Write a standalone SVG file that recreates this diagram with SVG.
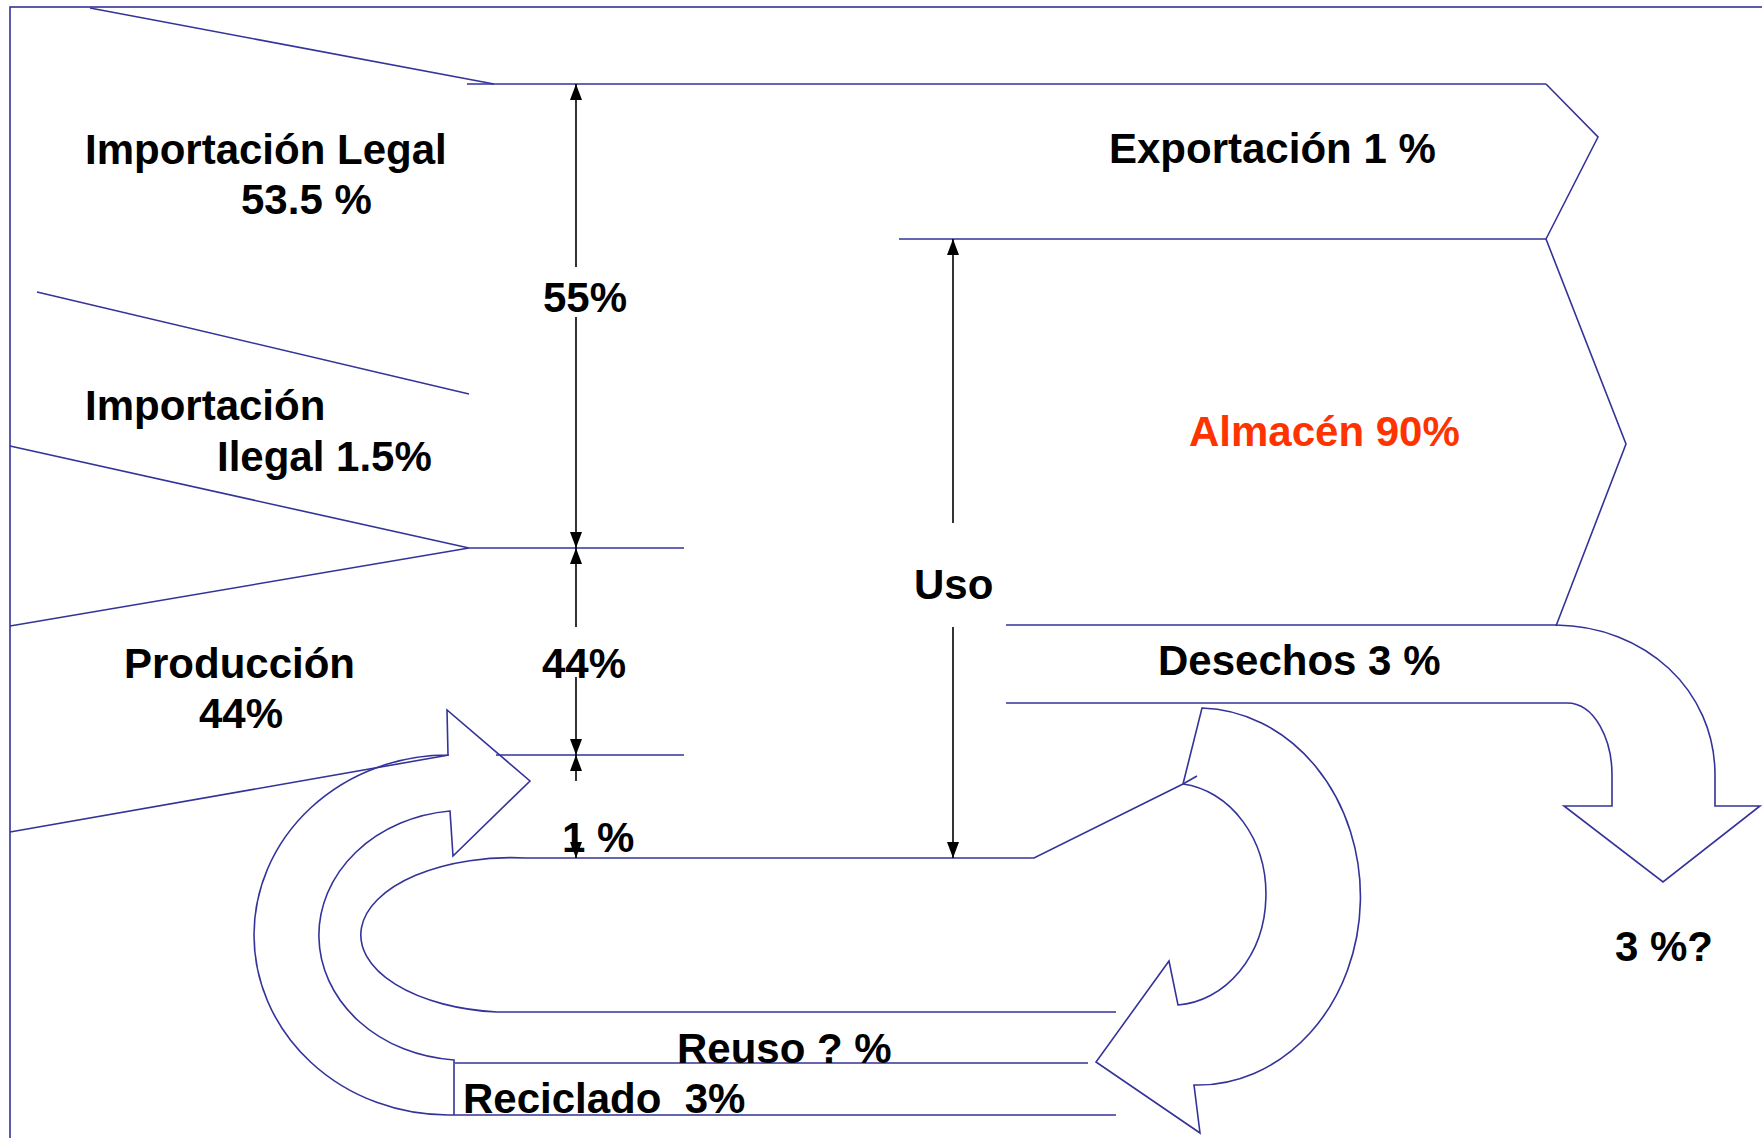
<svg xmlns="http://www.w3.org/2000/svg" width="1762" height="1138" viewBox="0 0 1762 1138">
<style>
.f{fill:none;stroke:#333399;stroke-width:1.6;stroke-linejoin:miter}
.d{fill:none;stroke:#000;stroke-width:1.6}
.t{font-family:"Liberation Sans",Arial,sans-serif;font-weight:bold;font-size:42px;fill:#000;white-space:pre}
.r{fill:#FF3300}
</style>
<defs>
<marker id="ah" viewBox="0 0 16 12" refX="16" refY="6" markerWidth="16" markerHeight="12" markerUnits="userSpaceOnUse" orient="auto">
<path d="M0,0 L16,6 L0,12 z" fill="#000"/>
</marker>
</defs>
<rect x="10" y="7" width="1800" height="1200" fill="#fff" stroke="#333399" stroke-width="1.6"/>
<g id="importacion-legal">
<path class="f" d="M90,8 L494,84 M37,292 L469,394"/>
<text class="t" x="85" y="164">Importación Legal</text>
<text class="t" x="241" y="214">53.5 %</text>
</g>
<g id="importacion-ilegal">
<path class="f" d="M10,446 L469,548 L10,626"/>
<text class="t" x="85" y="420">Importación</text>
<text class="t" x="217" y="471">Ilegal 1.5%</text>
</g>
<g id="produccion">
<path class="f" d="M10,832 L449,755"/>
<text class="t" x="124" y="678">Producción</text>
<text class="t" x="199" y="728">44%</text>
</g>
<g id="flujo">
<path class="f" d="M467,84 H1546 M469,548 H684 M496,755 H684"/>
</g>
<g id="exportacion">
<path class="f" d="M899,239 H1546 M1546,84 L1598,137 L1546,239"/>
<text class="t" x="1109" y="163">Exportación 1 %</text>
</g>
<g id="almacen">
<path class="f" d="M1546,239 L1626,444 L1556,626"/>
<text class="t r" x="1189" y="446">Almacén 90%</text>
</g>
<g id="desechos">
<path class="f" d="M1006,625 H1556 C1645,626 1715,690 1715,775 V806 H1760 L1663,882 L1564,806 H1612 V775 C1612,740 1595,703 1567,703 H1006"/>
<text class="t" x="1158" y="675">Desechos 3 %</text>
<text class="t" x="1615" y="961">3 %?</text>
</g>
<g id="uso">
<path class="f" d="M522,858 H1034 L1183,784 L1197,776 M526,858 A150 77 0 0 0 497,1012 H1116"/>
<text class="t" x="914" y="599">Uso</text>
</g>
<g id="reuso">
<path class="f" d="M1183,784 L1202,708 A162 188 0 0 1 1194,1085 L1200,1133 L1096,1062 L1169,961 L1178,1005 A94 111 0 0 0 1183,784 M455,1063 H1088"/>
<text class="t" x="677" y="1063">Reuso ? %</text>
</g>
<g id="reciclado">
<path class="f" d="M448,755 L447,710 L530,781 L453,856 L450,811 A146 125 0 0 0 454,1060 V1115 M448,755 A194 180 0 0 0 448,1115 H1116"/>
<text class="t" x="463" y="1113">Reciclado&#160; 3%</text>
</g>
<g id="connectors">
<path class="d" d="M576,267 V84" marker-end="url(#ah)"/>
<path class="d" d="M576,317 V548" marker-end="url(#ah)"/>
<path class="d" d="M576,627 V548" marker-end="url(#ah)"/>
<path class="d" d="M576,677 V755" marker-end="url(#ah)"/>
<path class="d" d="M576,781 V755" marker-end="url(#ah)"/>
<path class="d" d="M576,826 V858" marker-end="url(#ah)"/>
<path class="d" d="M953,523 V239" marker-end="url(#ah)"/>
<path class="d" d="M953,627 V858" marker-end="url(#ah)"/>
<text class="t" x="543" y="312">55%</text>
<text class="t" x="542" y="678">44%</text>
<text class="t" x="562" y="852">1 %</text>
</g>
</svg>
